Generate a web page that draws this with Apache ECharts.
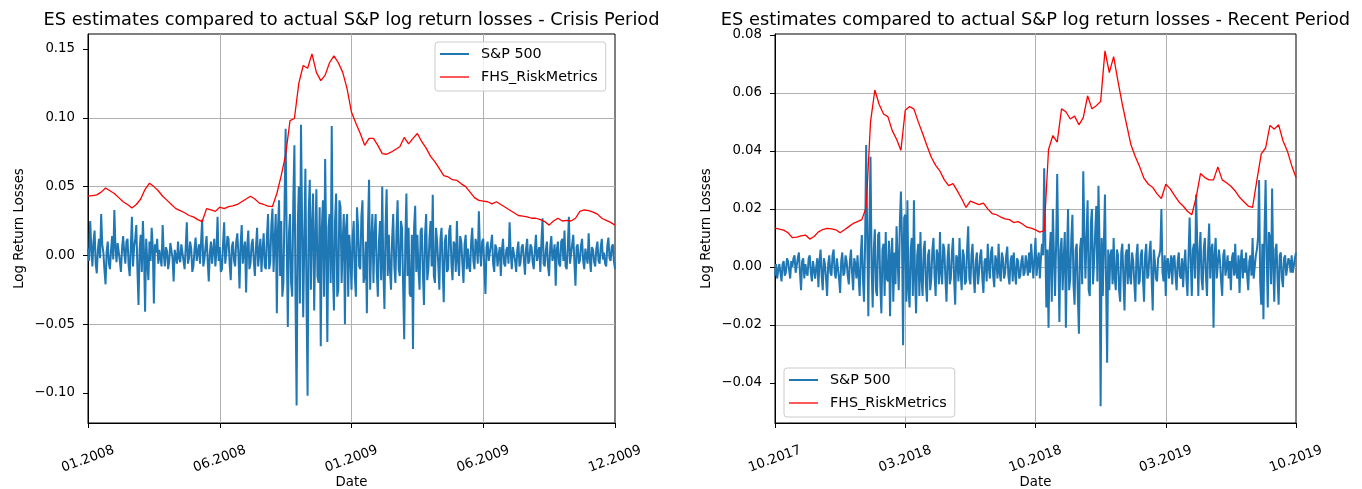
<!DOCTYPE html>
<html><head><meta charset="utf-8">
<script src="https://cdn.jsdelivr.net/npm/echarts@6/dist/echarts.min.js"></script>
<style>html,body{margin:0;padding:0;background:#fff}#c{width:1362px;height:489px}</style>
</head><body><div id="c"></div>
<script>
// ---------- data ----------
const crisisTicks = ["01.2008","06.2008","01.2009","06.2009","12.2009"];
const recentTicks = ["10.2017","03.2018","10.2018","03.2019","10.2019"];
const crisisYTicks = [-0.10,-0.05,0.00,0.05,0.10,0.15];
const recentYTicks = [-0.04,-0.02,0.00,0.02,0.04,0.06,0.08];
const seriesNames = ["S&P 500","FHS_RiskMetrics"];

// daily S&P 500 log return losses, 01.2008 - 12.2009
const crisisSP = [
0.005,-0.004,0.025,0.006,-0.008,0.010,0.018,-0.006,-0.013,0.004,0.012,-0.002,0.030,0.008,0.002,-0.011,-0.021,0.003,0.010,-0.006,
-0.010,0.004,0.014,-0.003,0.033,0.006,-0.005,0.009,0.008,-0.004,-0.012,0.005,0.014,0.002,-0.006,0.010,0.012,-0.007,-0.015,0.006,
0.028,-0.008,0.006,0.012,0.022,-0.010,-0.036,0.004,0.015,-0.012,0.025,0.002,-0.041,0.012,-0.005,-0.018,0.010,-0.004,0.020,0.006,
-0.035,0.008,0.002,0.012,-0.006,0.004,0.005,-0.008,0.022,0.001,-0.008,0.006,0.003,-0.010,-0.004,0.009,0.008,-0.002,-0.019,0.004,
0.005,-0.006,0.010,-0.002,-0.005,0.008,0.007,-0.004,-0.010,0.006,0.024,-0.006,-0.002,0.010,0.005,-0.012,-0.008,0.004,0.013,-0.004,
0.002,0.008,-0.006,0.010,0.026,-0.008,-0.003,0.006,0.014,-0.004,-0.019,0.002,0.010,-0.006,0.004,0.012,-0.008,0.003,0.028,-0.004,
0.006,-0.012,-0.010,0.008,0.024,-0.006,0.002,0.014,0.012,-0.006,-0.018,0.006,0.010,-0.004,-0.008,0.010,0.016,0.001,-0.024,0.008,
0.022,-0.006,0.004,0.010,-0.027,0.006,0.018,-0.010,-0.006,0.008,0.012,-0.004,-0.015,0.006,0.020,-0.008,0.002,0.012,-0.012,0.004,
0.016,-0.008,-0.010,0.014,0.030,-0.010,-0.005,0.022,0.034,-0.012,0.010,0.030,-0.042,0.018,0.040,-0.015,0.025,-0.030,-0.020,0.035,
0.092,0.010,-0.052,0.015,0.030,-0.020,-0.030,0.040,0.080,-0.030,-0.109,0.020,0.050,-0.035,0.095,0.025,-0.045,0.010,0.063,-0.030,
-0.102,0.030,0.055,-0.025,0.020,0.045,-0.040,0.010,0.048,-0.015,-0.020,0.035,-0.066,0.020,0.040,-0.030,0.070,0.005,-0.063,0.020,
0.030,-0.020,0.094,-0.010,-0.040,0.025,0.045,-0.030,-0.025,0.040,0.035,-0.020,0.010,0.030,-0.050,0.020,0.030,-0.030,0.015,0.000,
-0.025,0.012,0.025,-0.015,-0.030,0.035,0.020,-0.008,-0.010,0.028,0.040,-0.020,-0.015,0.010,-0.042,0.020,0.055,-0.025,0.010,0.030,
-0.020,0.015,0.030,-0.012,-0.030,0.010,0.025,-0.018,0.050,-0.010,-0.039,0.020,0.048,-0.015,0.015,-0.010,-0.025,0.012,0.030,-0.008,
-0.020,0.018,0.040,-0.010,-0.015,0.025,0.020,-0.022,-0.061,0.010,0.045,-0.015,0.020,-0.028,-0.030,0.015,-0.068,0.020,0.036,-0.012,
0.015,-0.010,-0.025,0.018,0.020,-0.012,-0.036,0.015,0.030,-0.018,-0.010,0.012,0.025,-0.008,0.044,-0.015,-0.020,0.020,0.010,-0.006,
-0.025,0.012,0.020,-0.008,-0.034,0.010,0.015,-0.012,-0.010,0.018,0.022,-0.006,-0.018,0.010,0.008,-0.012,0.025,-0.004,-0.015,0.014,
0.010,-0.006,-0.020,0.008,0.015,-0.010,0.005,-0.008,-0.012,0.010,0.020,-0.004,-0.010,0.012,0.008,-0.006,0.032,0.004,-0.008,0.010,
0.012,-0.010,-0.028,0.006,0.010,-0.004,-0.005,0.008,0.015,-0.006,-0.012,0.008,0.005,-0.008,0.000,0.006,-0.015,0.004,0.012,-0.006,
-0.008,0.004,0.006,-0.006,0.024,0.002,-0.010,0.006,0.005,-0.004,-0.012,0.004,0.010,-0.008,-0.005,0.006,0.008,-0.003,-0.014,0.005,
0.012,-0.006,-0.004,0.008,0.006,-0.005,-0.010,0.004,0.015,-0.004,0.002,0.006,-0.012,0.010,0.027,-0.006,-0.008,0.004,0.010,-0.008,
-0.015,0.006,0.014,-0.004,0.000,0.008,-0.022,0.004,0.010,-0.006,-0.008,0.010,0.012,-0.004,0.018,-0.008,-0.010,0.006,0.028,-0.006,
-0.006,0.008,0.015,-0.005,-0.022,0.006,0.008,-0.006,-0.004,0.007,0.012,-0.004,-0.010,0.005,0.006,-0.006,0.016,-0.002,-0.012,0.006,
0.004,-0.005,-0.008,0.005,0.010,-0.004,-0.006,0.006,0.012,-0.003,0.002,-0.006,-0.008,0.007,0.013,-0.002,-0.004,0.006,0.008,-0.004,
-0.010];

// FHS RiskMetrics expected shortfall estimate, 01.2008 - 12.2009
const crisisES = [0.043,0.0435,0.044,0.046,0.049,0.047,0.045,0.042,0.039,0.037,
0.0345,0.037,0.041,0.048,0.0525,0.050,0.047,0.043,0.040,0.037,
0.034,0.0325,0.031,0.029,0.028,0.026,0.0246,0.034,0.033,0.032,
0.035,0.034,0.0355,0.036,0.037,0.039,0.041,0.043,0.041,0.038,
0.037,0.0358,0.0355,0.045,0.058,0.073,0.098,0.0995,0.125,0.138,
0.136,0.1465,0.133,0.127,0.131,0.140,0.145,0.140,0.133,0.121,
0.104,0.096,0.0886,0.080,0.085,0.085,0.080,0.074,0.0735,0.075,
0.077,0.079,0.0857,0.081,0.085,0.0886,0.0826,0.078,0.072,0.068,
0.063,0.058,0.057,0.055,0.0545,0.052,0.050,0.046,0.042,0.040,
0.0395,0.039,0.0375,0.039,0.037,0.035,0.033,0.031,0.029,0.0285,
0.028,0.027,0.027,0.026,0.0246,0.022,0.025,0.027,0.025,0.0255,
0.025,0.027,0.032,0.033,0.0325,0.0315,0.030,0.027,0.0255,0.024,
0.022];

// daily S&P 500 log return losses, 10.2017 - 10.2019
const recentSP = [
-0.003,0.001,-0.004,-0.001,0.001,-0.002,-0.005,0.001,0.002,-0.003,-0.002,0.003,0.002,-0.001,-0.004,0.002,0.000,0.003,0.004,-0.002,
-0.002,0.003,0.005,-0.002,-0.008,0.002,0.003,-0.004,0.001,-0.002,-0.003,0.003,0.004,-0.002,-0.005,0.002,0.002,-0.004,0.000,0.003,
-0.007,0.002,0.006,-0.003,-0.008,0.003,0.001,-0.004,-0.010,0.001,0.004,-0.002,-0.003,0.004,0.006,-0.002,-0.004,0.003,0.003,-0.004,
-0.009,0.002,0.005,-0.003,-0.002,0.004,0.002,-0.003,-0.006,0.002,0.006,-0.002,-0.008,0.003,0.001,-0.004,0.004,-0.003,-0.010,0.004,
0.011,-0.004,-0.012,0.008,0.042,0.010,-0.017,0.015,0.038,0.000,-0.014,0.006,0.013,-0.008,-0.010,0.011,0.012,-0.006,-0.016,0.006,
0.008,-0.010,0.012,-0.004,-0.005,0.009,-0.017,0.004,0.010,-0.012,0.005,-0.006,0.014,0.002,-0.008,0.015,0.026,0.010,-0.027,0.017,
0.018,-0.012,0.023,-0.008,-0.014,0.006,0.010,-0.010,0.023,-0.004,-0.016,0.004,0.008,-0.010,0.012,-0.004,-0.010,0.006,0.009,-0.006,
-0.012,0.004,0.006,-0.008,-0.004,0.006,0.010,-0.003,-0.010,0.006,0.004,-0.006,0.012,-0.002,-0.006,0.008,0.006,-0.004,-0.012,0.003,
0.008,-0.006,-0.004,0.005,0.010,-0.004,-0.013,0.004,0.003,-0.005,0.010,-0.002,-0.008,0.006,0.004,-0.006,-0.005,0.006,0.014,-0.004,
-0.006,0.004,0.008,-0.003,-0.009,0.002,0.005,-0.006,-0.002,0.004,0.006,-0.004,-0.009,0.002,0.003,-0.005,0.008,0.000,-0.004,0.005,
0.007,-0.003,-0.007,0.004,0.002,-0.004,0.008,-0.002,-0.005,0.005,0.003,-0.004,-0.002,0.004,0.007,-0.003,-0.006,0.002,0.004,-0.005,
0.005,-0.002,-0.006,0.003,0.002,-0.004,-0.003,0.002,0.004,-0.003,-0.002,0.004,0.001,-0.003,0.005,-0.002,0.008,0.002,-0.004,0.003,
0.010,-0.003,0.002,0.005,-0.004,0.003,0.008,0.004,0.034,0.010,-0.014,0.006,-0.021,0.005,0.012,-0.012,0.020,0.004,-0.010,0.008,
0.032,0.005,-0.019,0.006,0.010,-0.008,0.003,0.012,-0.021,0.004,0.020,-0.008,-0.004,0.010,0.018,-0.006,-0.013,0.006,0.008,-0.010,
-0.023,0.006,0.010,-0.006,0.033,0.012,-0.004,0.010,0.023,-0.008,-0.010,0.015,0.020,-0.006,0.002,0.012,0.021,-0.005,0.028,0.008,
-0.048,0.010,-0.010,0.008,0.025,-0.005,-0.033,0.006,-0.008,0.004,0.006,-0.006,0.010,-0.004,-0.008,0.006,0.004,-0.008,-0.012,0.005,
0.008,-0.004,-0.015,0.004,0.006,-0.006,0.008,-0.003,-0.006,0.005,0.002,-0.005,-0.012,0.004,0.008,-0.006,-0.005,0.004,0.006,-0.004,
-0.012,0.004,0.008,-0.004,-0.003,0.005,0.009,-0.004,-0.015,0.006,0.002,-0.004,-0.005,0.003,0.004,0.006,0.020,-0.002,-0.005,0.004,
-0.010,0.002,0.003,-0.004,0.000,0.004,-0.006,0.003,0.004,-0.003,-0.008,0.002,0.005,-0.003,-0.004,0.003,-0.007,0.001,0.006,-0.004,
-0.010,0.004,0.017,0.002,-0.010,0.006,0.008,-0.004,0.025,0.008,-0.010,0.005,0.012,-0.004,-0.008,0.006,0.010,-0.003,-0.010,0.006,
0.015,-0.004,0.006,0.008,-0.021,0.004,0.010,-0.004,-0.004,0.006,0.002,-0.005,-0.010,0.004,0.006,-0.003,0.000,0.004,-0.004,0.002,
-0.008,0.003,0.005,-0.003,0.008,-0.002,-0.004,0.004,-0.009,0.002,0.006,-0.004,0.003,-0.002,0.005,-0.003,-0.008,0.002,0.004,-0.003,
0.010,-0.004,0.000,0.004,0.006,0.010,0.030,-0.005,-0.013,0.008,-0.018,0.012,0.030,0.004,-0.014,0.012,0.010,-0.006,0.027,0.000,
-0.012,0.006,0.008,-0.004,-0.013,0.004,0.005,-0.004,-0.007,0.003,0.004,-0.003,-0.003,0.003,0.002,-0.002,0.004,-0.002,-0.002,0.003,
0.005];

// FHS RiskMetrics expected shortfall estimate, 10.2017 - 10.2019
const recentES = [0.0134,0.0130,0.0127,0.0118,0.0101,0.0103,0.0107,0.0110,0.0096,0.0105,
0.0121,0.0129,0.0133,0.0131,0.0128,0.0118,0.0128,0.0139,0.0150,0.0156,
0.0163,0.0205,0.0500,0.0610,0.0560,0.0527,0.0518,0.0470,0.0440,0.0402,
0.0540,0.0553,0.0544,0.0500,0.0460,0.0418,0.0378,0.0350,0.0330,0.0300,
0.0280,0.0287,0.0262,0.0235,0.0205,0.0227,0.0221,0.0215,0.0220,0.0200,
0.0184,0.0180,0.0172,0.0166,0.0163,0.0153,0.0156,0.0148,0.0137,0.0134,
0.0128,0.0120,0.0125,0.0405,0.0453,0.0430,0.0545,0.0535,0.0510,0.0520,
0.0490,0.0515,0.0590,0.0545,0.0556,0.0570,0.0745,0.0670,0.0725,0.0640,
0.0560,0.0490,0.0420,0.0380,0.0345,0.0305,0.0285,0.0274,0.0252,0.0236,
0.0285,0.0270,0.0247,0.0225,0.0210,0.0192,0.0180,0.0240,0.0322,0.0308,
0.0300,0.0300,0.0345,0.0300,0.0290,0.0278,0.0262,0.0240,0.0225,0.0210,
0.0205,0.0300,0.0390,0.0410,0.0488,0.0475,0.0490,0.0435,0.0400,0.0350,
0.0308];

// ---------- chart ----------
const FONT = "DejaVu Sans";
const TXT = {fontFamily: FONT, color: "#000"};
const chart = echarts.init(document.getElementById("c"), null, {renderer: "canvas"});

function fmtY(v) {
  const s = Math.abs(v).toFixed(2);
  return (v < -1e-9 ? "\u2212" : "") + s;
}
function toPairs(arr, span) {
  const step = span / (arr.length - 1);
  return arr.map((v, i) => [i * step, v]);
}
function makeX(g, ticks, span) {
  const iv = span / (ticks.length - 1);
  return {
    type: "value", gridIndex: g, min: 0, max: span, interval: iv,
    name: "Date", nameLocation: "middle", nameGap: 53, nameMoveOverlap: false,
    nameTextStyle: Object.assign({fontSize: 13.3}, TXT),
    axisLine: {show: true, onZero: false, lineStyle: {color: "#000", width: 1}},
    axisTick: {show: true, length: 5, lineStyle: {color: "#000", width: 1}},
    axisLabel: Object.assign({
      fontSize: 13.3, rotate: 20, align: "center", verticalAlign: "middle", margin: 36,
      showMinLabel: true, showMaxLabel: true, hideOverlap: false,
      formatter: v => ticks[Math.round(v / iv)] || ""
    }, TXT),
    splitLine: {show: true, showMinLine: false, showMaxLine: false,
      lineStyle: {color: "#b0b0b0", width: 1}}
  };
}
function makeY(g, ticks, mn, mx, step) {
  return {
    type: "value", gridIndex: g, min: mn, max: mx, minInterval: step, maxInterval: step,
    name: "Log Return Losses", nameLocation: "middle", nameGap: 62, nameRotate: 90, nameMoveOverlap: false,
    nameTextStyle: Object.assign({fontSize: 13.3}, TXT),
    axisLine: {show: true, onZero: false, lineStyle: {color: "#000", width: 1}},
    axisTick: {show: true, length: 5, customValues: ticks, lineStyle: {color: "#000", width: 1}},
    axisLabel: Object.assign({fontSize: 13.3, margin: 13, customValues: ticks,
      showMinLabel: true, showMaxLabel: true, formatter: fmtY}, TXT),
    splitLine: {show: true, showMinLine: false, showMaxLine: false,
      lineStyle: {color: "#b0b0b0", width: 1}}
  };
}
function legendAt(left, top) {
  return {
    data: [
      {name: seriesNames[0], icon: "path://M0,0H290V20H0Z"},
      {name: seriesNames[1], icon: "path://M0,0H290V13H0Z"}
    ],
    orient: "vertical", left: left, top: top,
    padding: [4, 8, 6, 5], itemWidth: 29, itemHeight: 14, itemGap: 7,
    backgroundColor: "rgba(255,255,255,0.8)", borderColor: "#cccccc", borderWidth: 1, borderRadius: 3,
    textStyle: {fontFamily: FONT, fontSize: 14.3, color: "#000", lineHeight: 16, padding: [0, 0, 0, 7]},
    selectedMode: false
  };
}
function lineSeries(name, g, data, color, width, z) {
  return {
    name: name, type: "line", xAxisIndex: g, yAxisIndex: g, data: data,
    symbol: "none", showSymbol: false, smooth: false, z: z,
    lineStyle: {color: color, width: width}, itemStyle: {color: color},
    emphasis: {disabled: true}, silent: true
  };
}

const spanC = crisisSP.length - 1;
const spanR = recentSP.length - 1;

chart.setOption({
  animation: false,
  backgroundColor: "#fff",
  title: [
    {text: "ES estimates compared to actual S&P log return losses - Crisis Period",
     left: 351.5, textAlign: "center", top: 11, padding: 0,
     textStyle: {fontFamily: FONT, fontSize: 17.8, fontWeight: "normal", color: "#000"}},
    {text: "ES estimates compared to actual S&P log return losses - Recent Period",
     left: 1035.5, textAlign: "center", top: 11, padding: 0,
     textStyle: {fontFamily: FONT, fontSize: 17.8, fontWeight: "normal", color: "#000"}}
  ],
  grid: [
    {left: 88, top: 34, width: 527, height: 389, show: true, borderColor: "#000", borderWidth: 1,
     backgroundColor: "transparent", containLabel: false, outerBoundsMode: "none"},
    {left: 775, top: 34, width: 521, height: 389, show: true, borderColor: "#000", borderWidth: 1,
     backgroundColor: "transparent", containLabel: false, outerBoundsMode: "none"}
  ],
  legend: [legendAt(435, 42), legendAt(784, 368)],
  xAxis: [makeX(0, crisisTicks, spanC), makeX(1, recentTicks, spanR)],
  yAxis: [makeY(0, crisisYTicks, -0.1218, 0.1609, 0.05), makeY(1, recentYTicks, -0.0538, 0.0803, 0.02)],
  series: [
    lineSeries(seriesNames[0], 0, toPairs(crisisSP, spanC), "#1f77b4", 2, 2),
    lineSeries(seriesNames[1], 0, toPairs(crisisES, spanC), "#ff0000", 1.3, 3),
    lineSeries(seriesNames[0], 1, toPairs(recentSP, spanR), "#1f77b4", 2, 2),
    lineSeries(seriesNames[1], 1, toPairs(recentES, spanR), "#ff0000", 1.3, 3)
  ]
});
</script>
</body></html>
